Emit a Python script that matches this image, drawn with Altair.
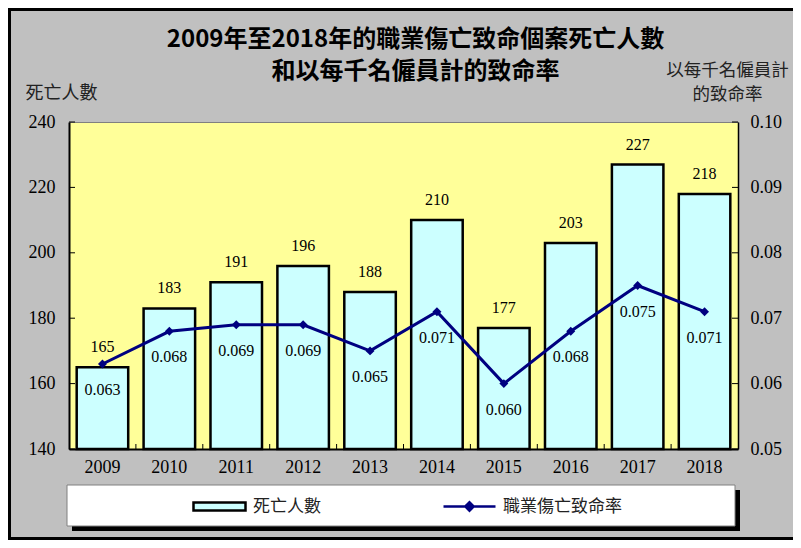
import altair as alt
import pandas as pd

years = ["2009", "2010", "2011", "2012", "2013", "2014", "2015", "2016", "2017", "2018"]
deaths = [165, 183, 191, 196, 188, 210, 177, 203, 227, 218]
rates = [0.063, 0.068, 0.069, 0.069, 0.065, 0.071, 0.060, 0.068, 0.075, 0.071]
death_ticks = [140, 160, 180, 200, 220, 240]
rate_ticks = [0.05, 0.06, 0.07, 0.08, 0.09, 0.10]
title_lines = ["2009年至2018年的職業傷亡致命個案死亡人數", "和以每千名僱員計的致命率"]
left_title = "死亡人數"
right_title = ["以每千名僱員計", "的致命率"]
bar_series = "死亡人數"
line_series = "職業傷亡致命率"

CJK = "Noto Sans CJK TC"
SERIF = "Liberation Serif"
NAVY = "#000080"

df = pd.DataFrame({
    "year": years,
    "deaths": deaths,
    "rate": rates,
    "bar_series": [bar_series] * len(years),
    "line_series": [line_series] * len(years),
})

W, H = 669, 327
PAD = {"left": 61, "top": 114, "right": 55, "bottom": 91}
P_IN, P_OUT = 0.23, 0.115
STEP = W / (len(years) - P_IN + 2 * P_OUT)
HALF_GAP = P_IN * STEP / 2

x_scale = alt.Scale(paddingInner=P_IN, paddingOuter=P_OUT)
x_axis = alt.Axis(
    title=None, labelAngle=0, labelFont=SERIF, labelFontSize=18, labelColor="black",
    labelPadding=9, ticks=False, domainColor="black", domainWidth=2, grid=False,
)
x_enc = alt.X("year:O", scale=x_scale, axis=x_axis)

y_left = alt.Y(
    "deaths:Q",
    scale=alt.Scale(domain=[death_ticks[0], death_ticks[-1]], zero=False, nice=False),
    axis=alt.Axis(
        orient="left", values=death_ticks, grid=False,
        title=left_title, titleAngle=0, titleAlign="left", titleBaseline="top",
        titleX=-44, titleY=-38, titleFont=CJK, titleFontSize=18, titleFontWeight="normal",
        titleColor="#222",
        labelFont=SERIF, labelFontSize=18, labelColor="black", labelPadding=14,
        ticks=False, domainColor="black", domainWidth=2,
    ),
)

y_right = alt.Y(
    "rate:Q",
    scale=alt.Scale(domain=[rate_ticks[0], rate_ticks[-1]], zero=False, nice=False),
    axis=alt.Axis(
        orient="right", values=rate_ticks, format=".2f", grid=False,
        title=right_title, titleAngle=0, titleAlign="center", titleBaseline="top",
        titleX=-11, titleY=-61, titleLineHeight=24, titleFont=CJK, titleFontSize=17.5,
        titleFontWeight="normal", titleColor="#222",
        labelFont=SERIF, labelFontSize=18, labelColor="black", labelPadding=12,
        ticks=False, domainColor="black", domainWidth=1.5,
    ),
)

one = alt.Data(values=[{"k": 0}])

# decorative frame strips and legend box
frame_left = alt.Chart(one).mark_rect(color="black").encode(
    x=alt.value(-PAD["left"]), x2=alt.value(-PAD["left"] + 3),
    y=alt.value(-PAD["top"]), y2=alt.value(H + PAD["bottom"]))
frame_top = alt.Chart(one).mark_rect(color="black").encode(
    x=alt.value(-PAD["left"]), x2=alt.value(W + PAD["right"]),
    y=alt.value(-PAD["top"]), y2=alt.value(-PAD["top"] + 3))
frame_bottom = alt.Chart(one).mark_rect(color="black").encode(
    x=alt.value(-PAD["left"]), x2=alt.value(W + PAD["right"]),
    y=alt.value(H + PAD["bottom"] - 3), y2=alt.value(H + PAD["bottom"]))
legend_shadow = alt.Chart(one).mark_rect(color="black").encode(
    x=alt.value(3), x2=alt.value(671), y=alt.value(368), y2=alt.value(409))
legend_box = alt.Chart(one).mark_rect(fill="white", stroke="#808080", strokeWidth=1).encode(
    x=alt.value(-2), x2=alt.value(666), y=alt.value(363), y2=alt.value(404))

base = alt.Chart(df)

LEG_Y = 357

bars = base.mark_bar(stroke="black", strokeWidth=2.5).encode(
    x=x_enc,
    y=y_left,
    y2=alt.datum(death_ticks[0]),
    fill=alt.Fill(
        "bar_series:N",
        scale=alt.Scale(range=["#CCFFFF"]),
        legend=alt.Legend(
            title=None, orient="none", legendX=123, legendY=LEG_Y, padding=0,
            symbolType="M-1,-0.154L1,-0.154L1,0.154L-1,0.154Z", symbolSize=2704,
            symbolStrokeColor="black", symbolStrokeWidth=2.5, symbolOpacity=1,
            labelFont=CJK, labelFontSize=17, labelColor="#222", labelOffset=6,
        ),
    ),
)
bar_text = base.mark_text(dy=-20, baseline="middle", font=SERIF, fontSize=16, color="black").encode(
    x=x_enc, y=y_left, text="deaths:Q")

# inward ticks on the left axis
left_ticks = alt.Chart(pd.DataFrame({"deaths": death_ticks})).mark_rule(
    color="black", strokeWidth=1).encode(y=y_left, x=alt.value(0), x2=alt.value(6))

# inward ticks at category boundaries on the x axis
x_ticks = alt.Chart(pd.DataFrame({"year": years[1:]})).mark_rule(
    color="black", strokeWidth=1, xOffset=-HALF_GAP).encode(
    x=alt.X("year:O", bandPosition=0, scale=x_scale, axis=x_axis),
    y=alt.value(H - 5), y2=alt.value(H))

left_layer = alt.layer(bars, bar_text, left_ticks, x_ticks)

line = base.mark_line(strokeWidth=3).encode(
    x=x_enc,
    y=y_right,
    stroke=alt.Stroke(
        "line_series:N",
        scale=alt.Scale(range=[NAVY]),
        legend=alt.Legend(
            title=None, orient="none", legendX=373, legendY=LEG_Y, padding=0,
            symbolType="M-1,0L1,0M-0.16,0L0,-0.16L0.16,0L0,0.16Z", symbolSize=2704,
            symbolStrokeWidth=2.5, symbolFillColor=NAVY, symbolStrokeColor=NAVY,
            labelFont=CJK, labelFontSize=17, labelColor="#222", labelOffset=6,
        ),
    ),
)
points = base.mark_point(shape="diamond", filled=True, size=80, color=NAVY, opacity=1).encode(
    x=x_enc, y=y_right)
rate_text = base.mark_text(dy=26, baseline="middle", font=SERIF, fontSize=16, color="black").encode(
    x=x_enc, y=y_right, text=alt.Text("rate:Q", format=".3f"))

right_ticks = alt.Chart(pd.DataFrame({"rate": rate_ticks})).mark_rule(
    color="black", strokeWidth=1).encode(y=y_right, x=alt.value(W - 6), x2=alt.value(W))

right_layer = alt.layer(line, points, rate_text, right_ticks)

chart = alt.layer(
    frame_left, frame_top, frame_bottom, legend_shadow, legend_box, left_layer, right_layer
).resolve_scale(
    y="independent"
).properties(
    width=W, height=H,
    autosize=alt.AutoSizeParams(type="none"),
    padding=PAD,
    title=alt.TitleParams(
        text=title_lines, font=CJK, fontSize=24, fontWeight="bold", color="black",
        anchor="middle", dx=12, dy=76, lineHeight=32, offset=0,
    ),
).configure(
    background="#C0C0C0",
).configure_view(
    fill="#FFFF99", stroke="#808080", strokeWidth=1,
)

chart.save("out.html", embed_options={"renderer": "svg", "actions": False})
